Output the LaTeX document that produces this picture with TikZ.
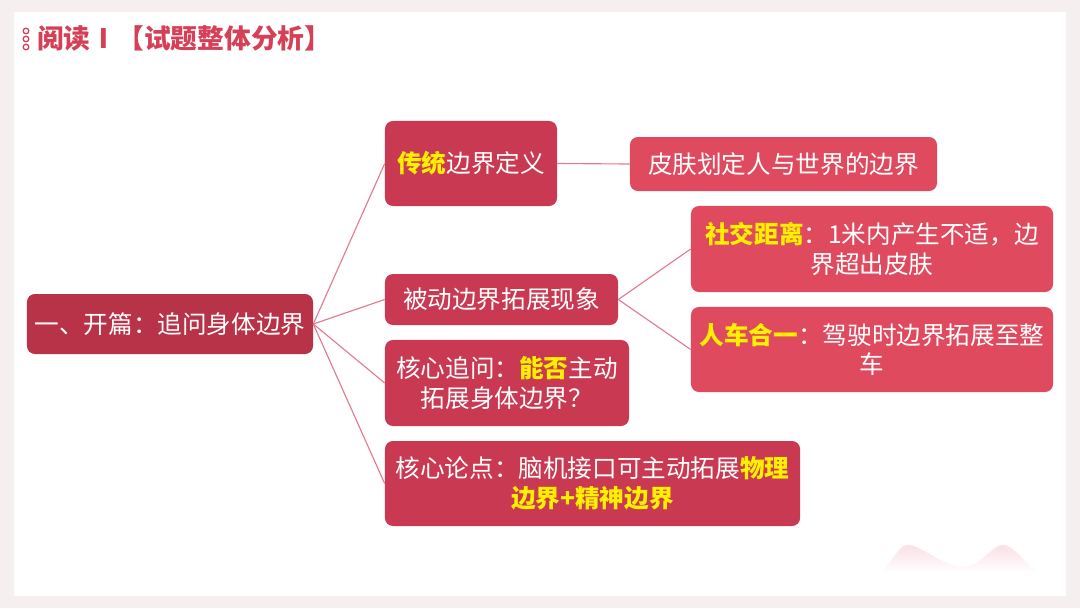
\documentclass[tikz,border=0pt]{standalone}
\usepackage{fontspec}
\setmainfont{Noto Sans CJK SC}
\usepackage{xcolor}
\definecolor{colorr}{RGB}{184,50,72}
\definecolor{colord}{RGB}{201,57,81}
\definecolor{colorl}{RGB}{224,74,95}
\definecolor{colorh}{RGB}{255,240,0}
\definecolor{colorline}{RGB}{226,122,142}
\definecolor{titlec}{RGB}{214,64,86}
\definecolor{backg}{RGB}{246,239,239}
\definecolor{hillc}{RGB}{250,224,230}
\usepackage{tikz}
\tikzstyle{box} = [rounded corners=0.2cm, text=white, align=center, inner sep=0pt, font=\fontsize{17.5}{21}\selectfont]
\tikzstyle{boxR} = [box, fill=colorr]
\tikzstyle{boxD} = [box, fill=colord]
\tikzstyle{boxL} = [box, fill=colorl]
\tikzstyle{link} = [-, line width=0.8pt, draw=colorline]
\newcommand{\hl}[1]{\textcolor{colorh}{\bfseries #1}}

\begin{document}
\begin{tikzpicture}[x=0.025cm, y=-0.025cm]
    % page
    \fill[backg] (0,0) rectangle (1080,608);
    \fill[white] (14,12) rectangle (1066,596);
    \useasboundingbox (0,0) rectangle (1080,608);
    \shade[top color=hillc, bottom color=white] (880,573) .. controls (895,560) and (898,545) .. (908,545)
        .. controls (920,545) and (945,567) .. (963,567)
        .. controls (980,567) and (992,545) .. (1003,545)
        .. controls (1013,545) and (1025,563) .. (1038,573) -- cycle;

    % title
    \foreach \yy in {31,39,47}
      \draw[titlec, line width=0.9pt] (26,\yy) circle (2.8);
    \node[anchor=west, text=titlec, inner sep=0pt, font=\fontsize{19}{22}\selectfont\bfseries] (title) at (37,38) {阅读Ⅰ【试题整体分析】};

    % nodes
    \node[boxR, minimum width=7.15cm, minimum height=1.5cm] (n1) at (170,324) {一、开篇：追问身体边界};
    \node[boxD, minimum width=4.3cm, minimum height=2.125cm] (n2) at (471,163.5) {\hl{传统}边界定义};
    \node[boxL, minimum width=7.675cm, minimum height=1.35cm] (n3) at (783.5,164) {皮肤划定人与世界的边界};
    \node[boxD, minimum width=5.825cm, minimum height=1.275cm] (n4) at (501.5,299.5) {被动边界拓展现象};
    \node[boxL, minimum width=9.05cm, minimum height=2.15cm] (n5) at (872,249) {\hl{社交距离}：1米内产生不适，边\\界超出皮肤};
    \node[boxL, minimum width=9.05cm, minimum height=2.125cm] (n6) at (872,349.5) {\hl{人车合一}：驾驶时边界拓展至整\\车};
    \node[boxD, minimum width=6.1cm, minimum height=2.15cm] (n7) at (507,383) {核心追问：\hl{能否}主动\\拓展身体边界？};
    \node[boxD, minimum width=10.375cm, minimum height=2.125cm] (n8) at (592.5,483.5) {核心论点：脑机接口可主动拓展\hl{物理}\\\hl{边界+精神边界}};

    % links
    \draw[link] (n1.east) -- (n2.west);
    \draw[link] (n1.east) -- (n4.west);
    \draw[link] (n1.east) -- (n7.west);
    \draw[link] (n1.east) -- (n8.west);
    \draw[link] (n2.east) -- (n3.west);
    \draw[link] (n4.east) -- (n5.west);
    \draw[link] (n4.east) -- (n6.west);
  \end{tikzpicture}
\end{document}
